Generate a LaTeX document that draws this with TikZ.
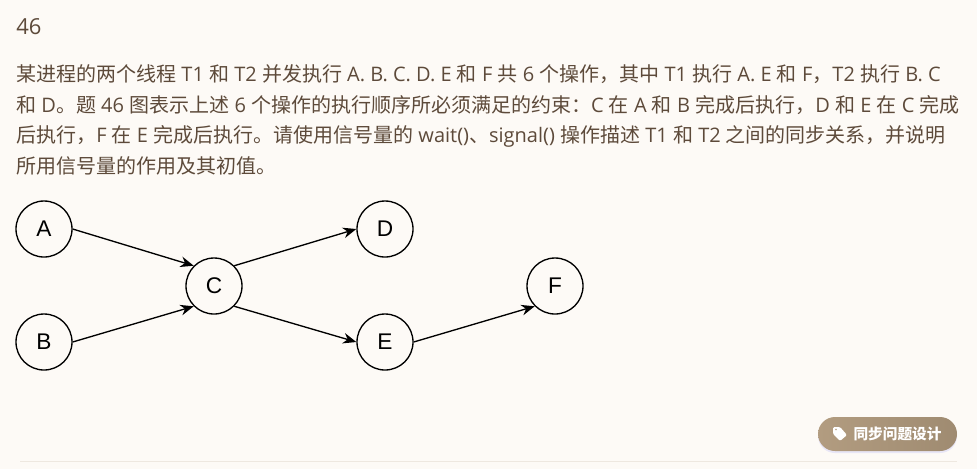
\documentclass[tikz,border=0pt]{standalone}
\usepackage{fontspec}
\usetikzlibrary{arrows.meta,shadows}
\setmainfont{Open Sans}
\newfontfamily\cjk{Noto Sans CJK SC}
\newfontfamily\nodefont{Liberation Sans}
\newcommand{\cn}[1]{{\cjk #1}}
\definecolor{pagebg}{HTML}{FDFAF6}
\definecolor{inktext}{HTML}{5D4A3A}
\definecolor{pillleft}{HTML}{B29C80}
\definecolor{pillright}{HTML}{9F8B71}
\definecolor{rulecol}{HTML}{EEE8E0}
\tikzset{
  line/.style={anchor=base west,inner sep=0pt,text=inktext,font=\fontsize{15}{18}\selectfont},
  op/.style={draw,circle,line width=1pt,minimum size=42pt,inner sep=0pt,font=\nodefont\fontsize{17}{18}\selectfont},
  edge/.style={->,line width=1pt},
}
\begin{document}
\begin{tikzpicture}[x=0.75pt,y=-0.75pt,>={Stealth[length=10pt,width=8pt]}]
\fill[pagebg] (0,0) rectangle (977,469);
\node[anchor=base west,inner sep=0pt,text=inktext,font=\fontsize{16.5}{20}\selectfont] (num) at (16,34) {46};
\node[line] (l1) at (16,81) {\cn{某进程的两个线程} T1 \cn{和} T2 \cn{并发执行} A. B. C. D. E \cn{和} F \cn{共} 6 \cn{个操作，其中} T1 \cn{执行} A. E \cn{和} F\cn{，}T2 \cn{执行} B. C};
\node[line] (l2) at (16,112) {\cn{和} D\cn{。题} 46 \cn{图表示上述} 6 \cn{个操作的执行顺序所必须满足的约束：}C \cn{在} A \cn{和} B \cn{完成后执行，}D \cn{和} E \cn{在} C \cn{完成}};
\node[line] (l3) at (16,142) {\cn{后执行，}F \cn{在} E \cn{完成后执行。请使用信号量的} wait()\cn{、}signal() \cn{操作描述} T1 \cn{和} T2 \cn{之间的同步关系，并说明}};
\node[line] (l4) at (16,173) {\cn{所用信号量的作用及其初值。}};

\node[op] (a) at (44,229) {A};
\node[op] (b) at (44,342) {B};
\node[op] (c) at (214,286) {C};
\node[op] (d) at (385,229) {D};
\node[op] (e) at (385,342) {E};
\node[op] (f) at (555,286) {F};

\draw[edge] (a.east) -- (c.135);
\draw[edge] (b.east) -- (c.225);
\draw[edge] (c.45) -- (d.west);
\draw[edge] (c.315) -- (e.west);
\draw[edge] (e.east) -- (f.225);

\draw[rulecol,line width=0.75pt] (20,461) -- (957,461);
\node[draw=none,rounded corners=12.75pt,minimum width=104.25pt,minimum height=25.5pt,inner sep=0pt,
  left color=pillleft,right color=pillright,
  drop shadow={shadow xshift=0pt,shadow yshift=-1.5pt,fill=blue!20!pagebg,opacity=0.4}] (pill) at (887.5,434) {};
\node[text=white,inner sep=0pt,font=\fontsize{11}{12}\bfseries\selectfont] (pilltext) at (897.5,434) {\cn{同步问题设计}};
\fill[white,even odd rule,rounded corners=1pt] (833,427) -- (840,427) -- (847,435) -- (840,441) -- (833,434) -- cycle
  (836,429.5) circle (1.2);
\end{tikzpicture}
\end{document}
